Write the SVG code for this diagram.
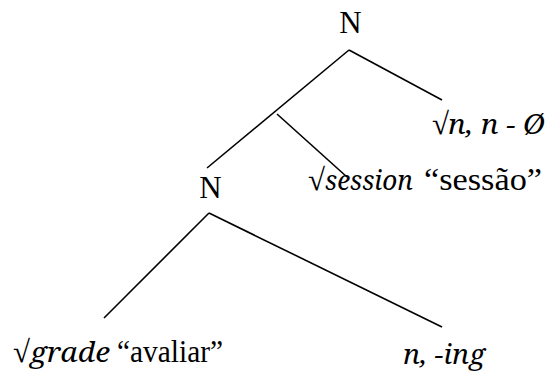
<svg xmlns="http://www.w3.org/2000/svg" width="548" height="373" viewBox="0 0 548 373">
<style>
text{font-family:"Liberation Serif","Times New Roman",serif;font-size:31px;fill:#000}
.i{font-family:"Noto Serif","DejaVu Serif",serif;font-style:italic;font-size:27px}
.e{stroke:#000;stroke-width:1.6;fill:none;stroke-linecap:butt}
</style>
<rect width="548" height="373" fill="#fff"/>
<g id="edges">
<line class="e" x1="349" y1="50" x2="442" y2="100"/>
<line class="e" x1="349" y1="50" x2="207" y2="168"/>
<line class="e" x1="277" y1="114" x2="347" y2="177"/>
<line class="e" x1="209" y1="213" x2="104" y2="318"/>
<line class="e" x1="209" y1="213" x2="442" y2="327"/>
</g>
<g id="n-top"><text x="350.5" y="33" text-anchor="middle">N</text></g>
<g id="n-mid"><text x="210.5" y="198" text-anchor="middle">N</text></g>
<g id="leaf-n"><text y="134"><tspan x="432">√</tspan><tspan class="i" x="448" textLength="97" lengthAdjust="spacingAndGlyphs">n, n - Ø</tspan></text></g>
<g id="leaf-session"><text y="190"><tspan x="308">√</tspan><tspan class="i" x="325" textLength="88" lengthAdjust="spacingAndGlyphs">session</tspan><tspan x="424" textLength="118" lengthAdjust="spacingAndGlyphs">“sessão”</tspan></text></g>
<g id="leaf-grade"><text y="362"><tspan x="13">√</tspan><tspan class="i" x="30" textLength="80" lengthAdjust="spacingAndGlyphs">grade</tspan><tspan x="117" textLength="106" lengthAdjust="spacingAndGlyphs">“avaliar”</tspan></text></g>
<g id="leaf-ing"><text y="364" x="403" class="i" textLength="82" lengthAdjust="spacingAndGlyphs">n, -ing</text></g>
</svg>
